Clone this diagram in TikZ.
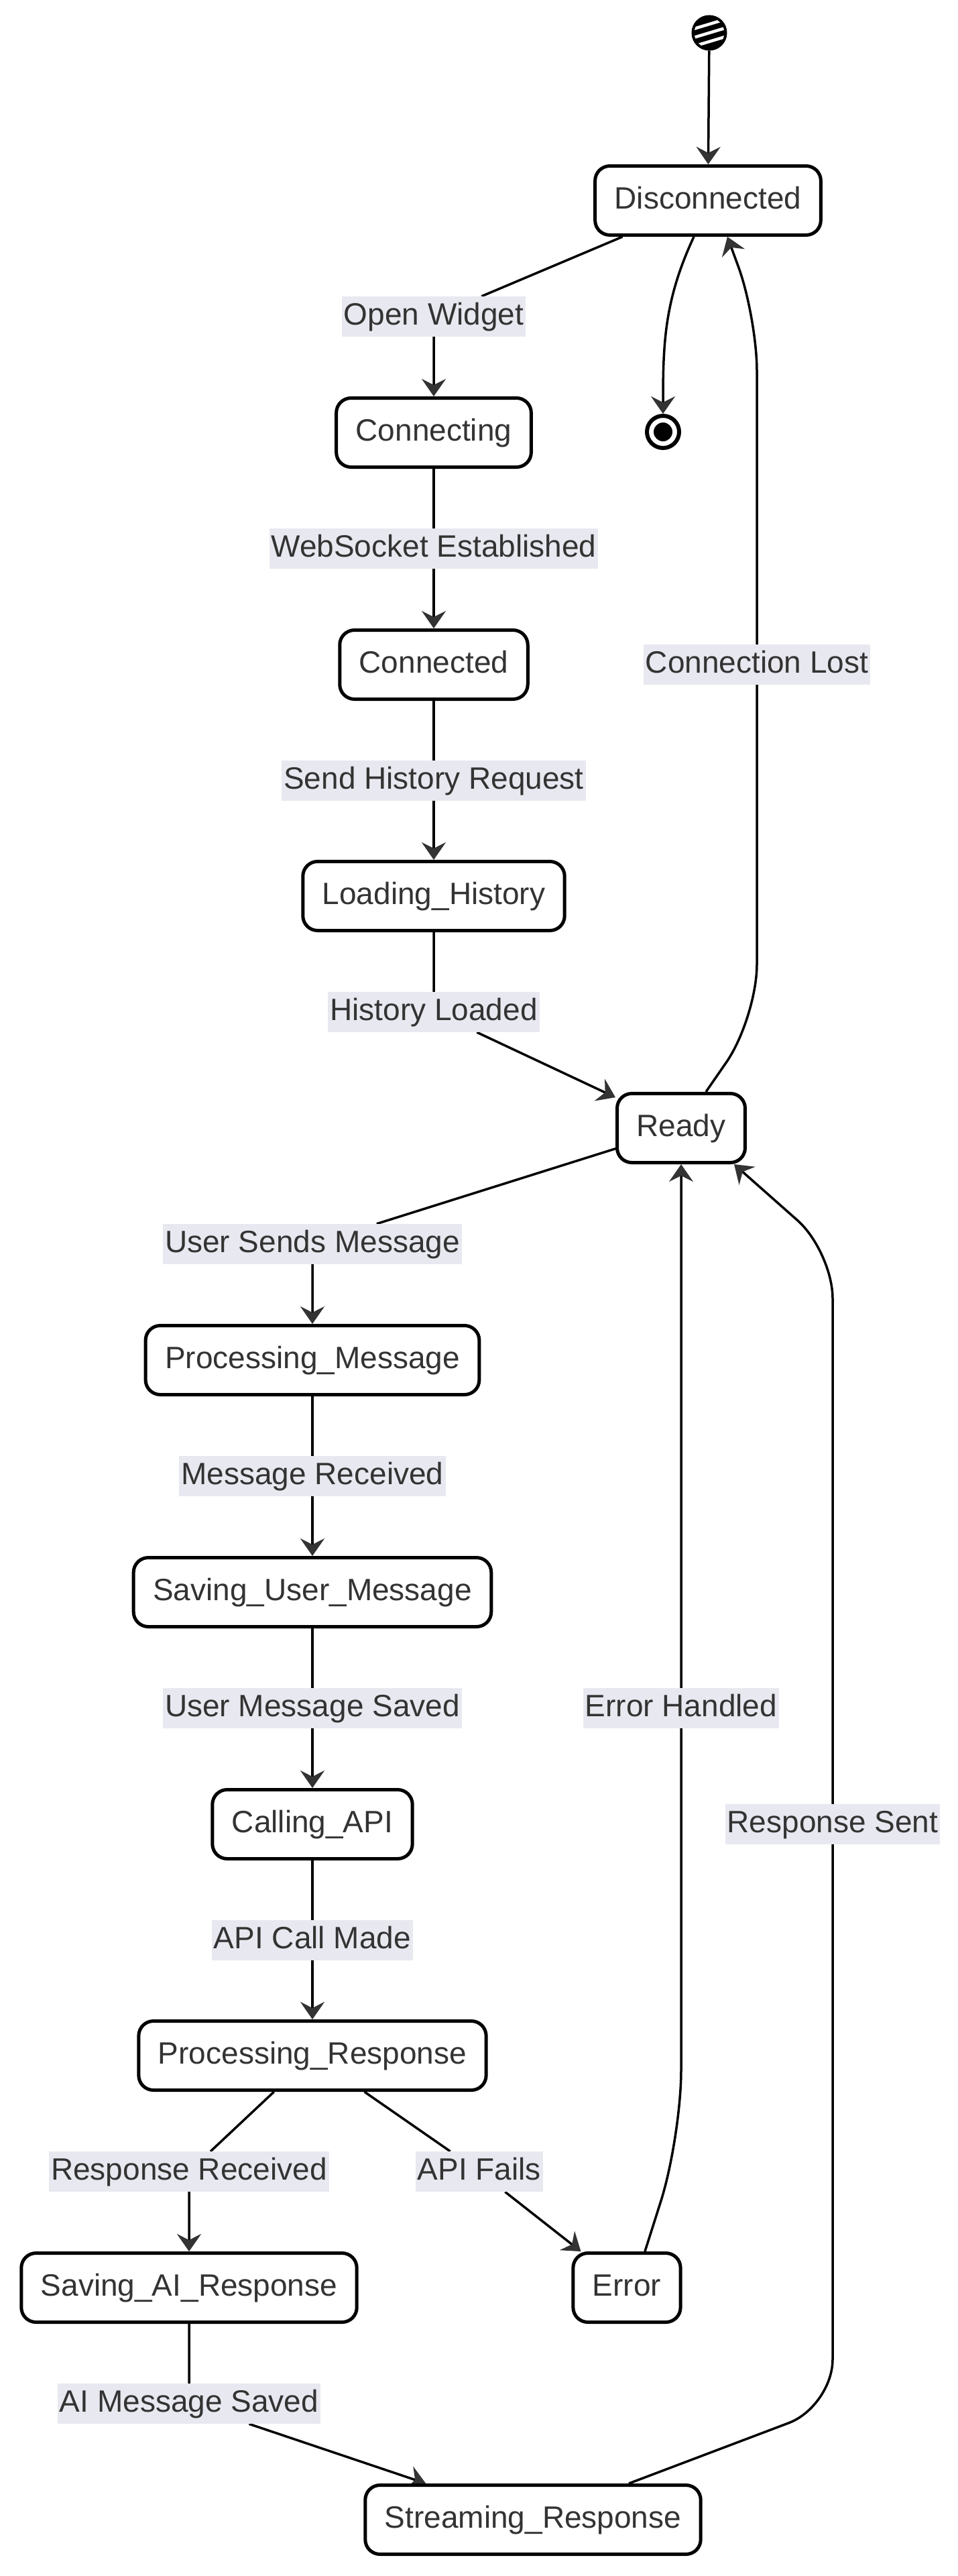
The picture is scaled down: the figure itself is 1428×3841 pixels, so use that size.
\documentclass[tikz,border=0pt]{standalone}
\usepackage{fontspec}
\setmainfont{Liberation Sans}
\usetikzlibrary{arrows.meta, calc, backgrounds}
\definecolor{inkgray}{HTML}{333333}
\definecolor{lblbg}{HTML}{E8E8F0}
\tikzset{
    state/.style={draw=black, fill=white, line width=5pt, rounded corners=22pt,
        minimum height=103pt, inner xsep=29pt, text=inkgray,
        text height=34pt, text depth=10pt},
    edgelabel/.style={fill=lblbg, text=inkgray, inner xsep=3pt, inner ysep=8pt,
        text height=34pt, text depth=10pt},
    trans/.style={line width=3.5pt, -{Stealth[length=26pt,width=36pt,inset=9pt,color=inkgray]}},
    startstate/.style={circle, draw=black, fill=black, line width=4pt, minimum size=49pt, inner sep=0pt,
        path picture={\foreach \k in {-13,0,13}
            \draw[white, line width=4.5pt] ($(path picture bounding box.center)+(-30,\k-9)$) -- ++(60,18);}},
    endstate/.style={circle, draw=black, fill=white, line width=6pt, minimum size=48pt, inner sep=0pt,
        path picture={\fill[black] (path picture bounding box.center) circle (14pt);}}
}

\begin{document}
\begin{tikzpicture}[x=1pt, y=1pt, font=\fontsize{46}{55}\selectfont]
    \useasboundingbox (0,0) rectangle (1428,-3841);

    % states
    \node[startstate] (start) at (1058,-49) {};
    \node[state] (disc) at (1056,-299) {Disconnected};
    \node[endstate] (fin) at (989,-644) {};
    \node[state] (conn) at (647,-645) {Connecting};
    \node[state] (cnd) at (647,-991) {Connected};
    \node[state] (hist) at (647,-1336) {Loading\_History};
    \node[state] (ready) at (1016,-1682) {Ready};
    \node[state] (pmsg) at (466,-2028) {Processing\_Message};
    \node[state] (smsg) at (466,-2374) {Saving\_User\_Message};
    \node[state] (api) at (466,-2720) {Calling\_API};
    \node[state] (presp) at (466,-3065) {Processing\_Response};
    \node[state] (sai) at (282,-3411) {Saving\_AI\_Response};
    \node[state] (err) at (935,-3411) {Error};
    \node[state] (stream) at (795,-3757) {Streaming\_Response};

    % transition labels
    \node[edgelabel] (lOpen) at (647,-472) {Open Widget};
    \node[edgelabel] (lSocket) at (647,-818) {WebSocket Established};
    \node[edgelabel] (lSendHist) at (647,-1164) {Send History Request};
    \node[edgelabel] (lLoaded) at (647,-1509) {History Loaded};
    \node[edgelabel] (lLost) at (1129,-991) {Connection Lost};
    \node[edgelabel] (lUser) at (466,-1855) {User Sends Message};
    \node[edgelabel] (lRecv) at (466,-2201) {Message Received};
    \node[edgelabel] (lSaved) at (466,-2547) {User Message Saved};
    \node[edgelabel] (lHandled) at (1016,-2547) {Error Handled};
    \node[edgelabel] (lCall) at (466,-2893) {API Call Made};
    \node[edgelabel] (lSent) at (1242,-2720) {Response Sent};
    \node[edgelabel] (lResp) at (282,-3238) {Response Received};
    \node[edgelabel] (lFail) at (715,-3238) {API Fails};
    \node[edgelabel] (lAI) at (282,-3584) {AI Message Saved};

    % transitions
    \begin{scope}[on background layer]
        \fill[white] (0,0) rectangle (1428,-3841);
        \draw[trans] (start) -- (disc);
        \draw[trans] (disc) -- (lOpen) -- (conn);
        \draw[trans] ([xshift=-21pt]disc.south) to[out=-115,in=90] (fin);
        \draw[trans] (conn) -- (lSocket) -- (cnd);
        \draw[trans] (cnd) -- (lSendHist) -- (hist);
        \draw[trans] (hist) -- (lLoaded) -- (ready);
        \draw[trans, rounded corners=80pt] ([xshift=37pt]ready.north)
            -- ($(lLost |- ready.north)+(0,110)$) -- (lLost)
            -- ($(lLost |- disc.south)+(0,-120)$) -- ([xshift=29pt]disc.south);
        \draw[trans] (ready) -- (lUser) -- (pmsg);
        \draw[trans] (pmsg) -- (lRecv) -- (smsg);
        \draw[trans] (smsg) -- (lSaved) -- (api);
        \draw[trans] (api) -- (lCall) -- (presp);
        \draw[trans] (presp) -- (lResp) -- (sai);
        \draw[trans] (presp) -- (lFail) -- (err);
        \draw[trans, rounded corners=100pt] ([xshift=27pt]err.north)
            -- ($(lHandled |- err.north)+(0,170)$) -- (lHandled) -- (ready);
        \draw[trans] (sai) -- (lAI) -- (stream);
        \draw[trans, rounded corners=70pt] ([xshift=143pt]stream.north)
            -- ($(lSent |- stream.north)+(0,115)$) -- (lSent)
            -- ($(lSent |- ready.south)+(0,-130)$) -- ([xshift=79pt]ready.south);
    \end{scope}
\end{tikzpicture}
\end{document}
